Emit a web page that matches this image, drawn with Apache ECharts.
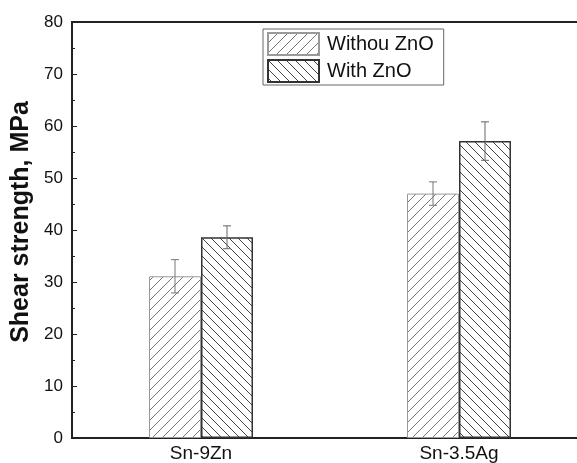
<!DOCTYPE html>
<html>
<head>
<meta charset="utf-8">
<script src="https://cdn.jsdelivr.net/npm/echarts@6/dist/echarts.min.js"></script>
<style>
html,body{margin:0;padding:0;background:#fff;}
#c{width:577px;height:463px;}
</style>
</head>
<body>
<div id="c"></div>
<script>
var categories = ['Sn-9Zn', 'Sn-3.5Ag'];
var seriesNames = ['Withou ZnO', 'With ZnO'];
var withoutZnO = [31.1, 47.0];
var withoutErr = [3.2, 2.25];
var withZnO = [38.6, 57.1];
var withErr = [2.2, 3.7];
var yTicks = [0, 10, 20, 30, 40, 50, 60, 70, 80];

function hatch(dir, s, color) {
  var c = document.createElement('canvas');
  c.width = s; c.height = s;
  var ctx = c.getContext('2d');
  ctx.fillStyle = '#fff';
  ctx.fillRect(0, 0, s, s);
  ctx.strokeStyle = color;
  ctx.lineWidth = 1;
  ctx.beginPath();
  if (dir === '/') {
    ctx.moveTo(0, s); ctx.lineTo(s, 0);
    ctx.moveTo(-1, 1); ctx.lineTo(1, -1);
    ctx.moveTo(s - 1, s + 1); ctx.lineTo(s + 1, s - 1);
  } else {
    ctx.moveTo(0, 0); ctx.lineTo(s, s);
    ctx.moveTo(-1, s - 1); ctx.lineTo(1, s + 1);
    ctx.moveTo(s - 1, -1); ctx.lineTo(s + 1, 1);
  }
  ctx.stroke();
  return c;
}

var BW = 52;
var chart = echarts.init(document.getElementById('c'), null, {renderer: 'canvas'});

function errSeries(vals, errs, side, color) {
  return {
    type: 'custom',
    z: 10,
    silent: true,
    data: vals.map(function (v, i) { return [i, v, errs[i]]; }),
    renderItem: function (params, api) {
      var i = api.value(0), v = api.value(1), e = api.value(2);
      var hi = api.coord([i, v + e]);
      var lo = api.coord([i, v - e]);
      var x = hi[0] + side * BW / 2;
      var cap = 4;
      var st = {stroke: color, lineWidth: 1};
      return {
        type: 'group',
        children: [
          {type: 'line', shape: {x1: x, y1: hi[1], x2: x, y2: lo[1]}, style: st},
          {type: 'line', shape: {x1: x - cap, y1: hi[1], x2: x + cap, y2: hi[1]}, style: st},
          {type: 'line', shape: {x1: x - cap, y1: lo[1], x2: x + cap, y2: lo[1]}, style: st}
        ]
      };
    }
  };
}

chart.setOption({
  animation: false,
  backgroundColor: '#fff',
  textStyle: {fontFamily: 'Liberation Sans, Arial, sans-serif'},
  grid: {left: 72, top: 22, height: 416, width: 516, outerBoundsMode: 'none', containLabel: false,
         show: true, borderColor: '#222', borderWidth: 2},
  legend: {
    data: seriesNames,
    orient: 'vertical',
    left: 263, top: 29,
    padding: [3, 10, 2, 4],
    itemGap: 3,
    itemWidth: 51,
    itemHeight: 22,
    icon: 'rect',
    borderColor: '#666',
    borderWidth: 1,
    textStyle: {fontSize: 20, color: '#111', fontFamily: 'Liberation Sans, Arial, sans-serif', padding: [0, 0, 0, 3]}
  },
  xAxis: {
    type: 'category',
    data: categories,
    axisLine: {lineStyle: {color: '#222', width: 2}},
    axisTick: {show: false},
    axisLabel: {fontSize: 19, color: '#111', margin: 6}
  },
  yAxis: {
    type: 'value',
    min: yTicks[0], max: yTicks[yTicks.length - 1], interval: 10,
    name: 'Shear strength, MPa',
    nameLocation: 'middle',
    nameGap: 30,
    nameTextStyle: {fontSize: 25, fontWeight: 'bold', color: '#111', padding: [0, 0, 0, 16]},
    axisLine: {show: true, lineStyle: {color: '#222', width: 2}},
    axisTick: {show: true, inside: true, length: 5, lineStyle: {color: '#222', width: 1}},
    minorTick: {show: true, splitNumber: 2, length: 3, lineStyle: {color: '#222', width: 1}},
    splitLine: {show: false},
    axisLabel: {fontSize: 17, color: '#111', margin: 9}
  },
  series: [
    {
      name: seriesNames[0], type: 'bar', data: withoutZnO, barWidth: BW, barGap: '0%',
      itemStyle: {color: {image: hatch('/', 10, '#777'), repeat: 'repeat'}, borderColor: '#999', borderWidth: 1}
    },
    {
      name: seriesNames[1], type: 'bar', data: withZnO, barWidth: BW, barGap: '0%',
      itemStyle: {color: {image: hatch('\\', 9, '#444'), repeat: 'repeat'}, borderColor: '#333', borderWidth: 1.5}
    },
    errSeries(withoutZnO, withoutErr, -1, '#777'),
    errSeries(withZnO, withErr, 1, '#666')
  ]
});
</script>
</body>
</html>
